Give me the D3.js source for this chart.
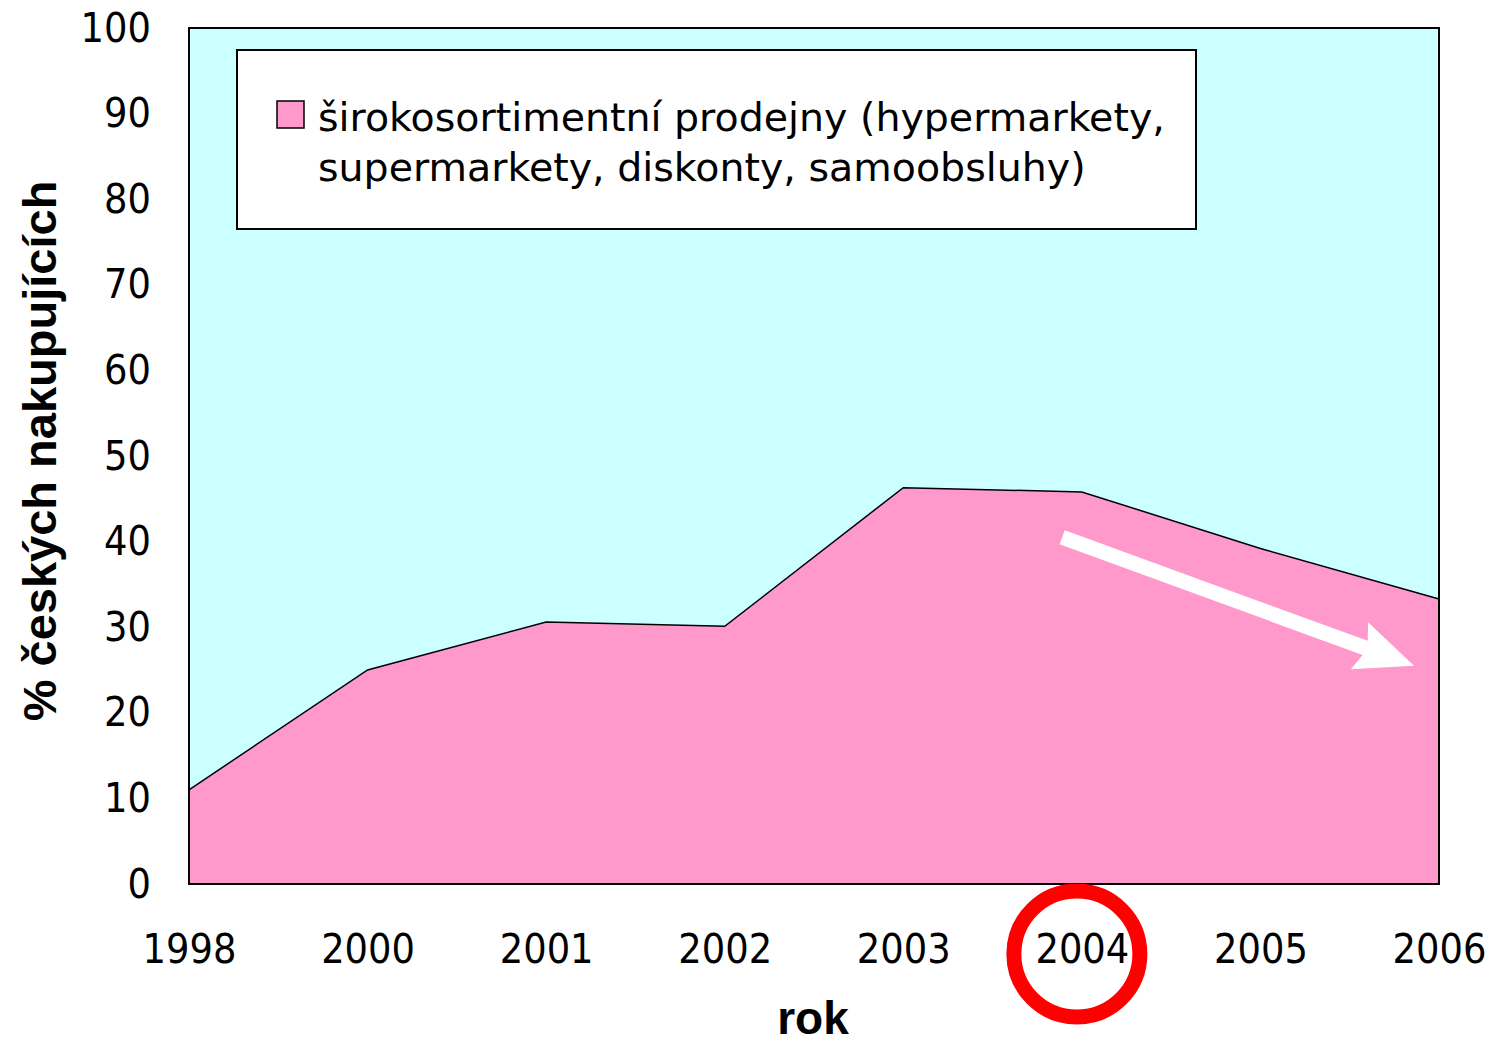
<!DOCTYPE html>
<html>
<head>
<meta charset="utf-8">
<script src="https://cdn.jsdelivr.net/npm/d3@7"></script>
<style>
  body { margin: 0; background: #fff; }
  text { font-family: "DejaVu Sans Condensed", "DejaVu Sans", sans-serif; }
</style>
</head>
<body>
<div id="chart"></div>
<script>
// data
const years = ['1998', '2000', '2001', '2002', '2003', '2004', '2005', '2006'];
const shares = [11.0, 25.0, 30.6, 30.1, 46.3, 45.8, 39.2, 33.3];
const yTicks = [0, 10, 20, 30, 40, 50, 60, 70, 80, 90, 100];
const seriesName = ['širokosortimentní prodejny (hypermarkety,', 'supermarkety, diskonty, samoobsluhy)'];
const highlightYear = '2004';
// trend arrow in data units: [category index, value]
const arrowFrom = [4.89, 40.5];
const arrowTo = [6.86, 25.5];

const W = 1490, H = 1041;
const margin = {top: 28, right: 51, bottom: 157, left: 189};
const width = W - margin.left - margin.right;
const height = H - margin.top - margin.bottom;

const svg = d3.select('#chart').append('svg')
  .attr('width', W)
  .attr('height', H);

const x = d3.scalePoint().domain(years).range([0, width]);
const y = d3.scaleLinear().domain([0, 100]).range([height, 0]);
const xi = d3.scaleLinear().domain([0, years.length - 1]).range([0, width]);

const g = svg.append('g')
  .attr('transform', `translate(${margin.left},${margin.top})`);

// plot background
g.append('rect')
  .attr('width', width)
  .attr('height', height)
  .attr('fill', '#CCFFFF');

const data = years.map((yr, i) => ({yr, v: shares[i]}));

const area = d3.area()
  .x(d => x(d.yr))
  .y0(y(0))
  .y1(d => y(d.v));

g.append('path')
  .datum(data)
  .attr('fill', '#FF99CC')
  .attr('d', area);

g.append('path')
  .datum(data)
  .attr('fill', 'none')
  .attr('stroke', '#000')
  .attr('stroke-width', 1.5)
  .attr('d', d3.line().x(d => x(d.yr)).y(d => y(d.v)));

// frame
g.append('rect')
  .attr('width', width)
  .attr('height', height)
  .attr('fill', 'none')
  .attr('stroke', '#000')
  .attr('stroke-width', 2);

// y axis labels
const yAxis = d3.axisLeft(y).tickValues(yTicks).tickSize(0).tickPadding(38);
g.append('g')
  .attr('class', 'y axis')
  .call(yAxis)
  .call(s => s.select('.domain').remove())
  .selectAll('text')
  .attr('font-family', '"DejaVu Sans Condensed", "DejaVu Sans", sans-serif')
  .attr('font-size', 41)
  .attr('fill', '#000');

// x axis labels
const xAxis = d3.axisBottom(x).tickSize(0).tickPadding(50);
g.append('g')
  .attr('class', 'x axis')
  .attr('transform', `translate(0,${height})`)
  .call(xAxis)
  .call(s => s.select('.domain').remove())
  .selectAll('text')
  .attr('font-family', '"DejaVu Sans Condensed", "DejaVu Sans", sans-serif')
  .attr('font-size', 41)
  .attr('fill', '#000');

// axis titles
svg.append('text')
  .attr('transform', `translate(56,${margin.top + height / 2 - 5}) rotate(-90)`)
  .attr('text-anchor', 'middle')
  .style('font-family', '"Liberation Sans", Arial, sans-serif')
  .style('font-weight', 'bold')
  .attr('font-size', 47)
  .text('% českých nakupujících');

svg.append('text')
  .attr('x', 813)
  .attr('y', 1034)
  .attr('text-anchor', 'middle')
  .style('font-family', '"Liberation Sans", Arial, sans-serif')
  .style('font-weight', 'bold')
  .attr('font-size', 46)
  .text('rok');

// legend
const legend = g.append('g')
  .attr('class', 'legend')
  .attr('transform', 'translate(48,22)');

legend.append('rect')
  .attr('width', 959)
  .attr('height', 179)
  .attr('fill', '#fff')
  .attr('stroke', '#000')
  .attr('stroke-width', 2);

legend.append('rect')
  .attr('x', 40)
  .attr('y', 51)
  .attr('width', 27)
  .attr('height', 27)
  .attr('fill', '#FF99CC')
  .attr('stroke', '#000')
  .attr('stroke-width', 1.5);

legend.selectAll('.legend-text')
  .data(seriesName)
  .enter()
  .append('text')
  .attr('class', 'legend-text')
  .attr('x', 81)
  .attr('y', (d, i) => 81 + i * 50)
  .style('font-family', '"DejaVu Sans", sans-serif')
  .attr('font-size', 39.5)
  .text(d => d);

// trend arrow
const ax0 = xi(arrowFrom[0]), ay0 = y(arrowFrom[1]);
const ax1 = xi(arrowTo[0]), ay1 = y(arrowTo[1]);
const ang = Math.atan2(ay1 - ay0, ax1 - ax0);
const len = Math.hypot(ax1 - ax0, ay1 - ay0);
const arrow = g.append('g')
  .attr('transform', `translate(${ax0},${ay0}) rotate(${ang * 180 / Math.PI})`);
arrow.append('path')
  .attr('fill', '#fff')
  .attr('d', `M0,-7.5 L${len - 52},-7.5 L${len - 58},-25 L${len},0 L${len - 58},25 L${len - 52},7.5 L0,7.5 Z`);

// highlight circle around 2004
g.append('circle')
  .attr('cx', x(highlightYear) - 5)
  .attr('cy', height + 70)
  .attr('r', 63)
  .attr('fill', 'none')
  .attr('stroke', '#FF0000')
  .attr('stroke-width', 15);
</script>
</body>
</html>
